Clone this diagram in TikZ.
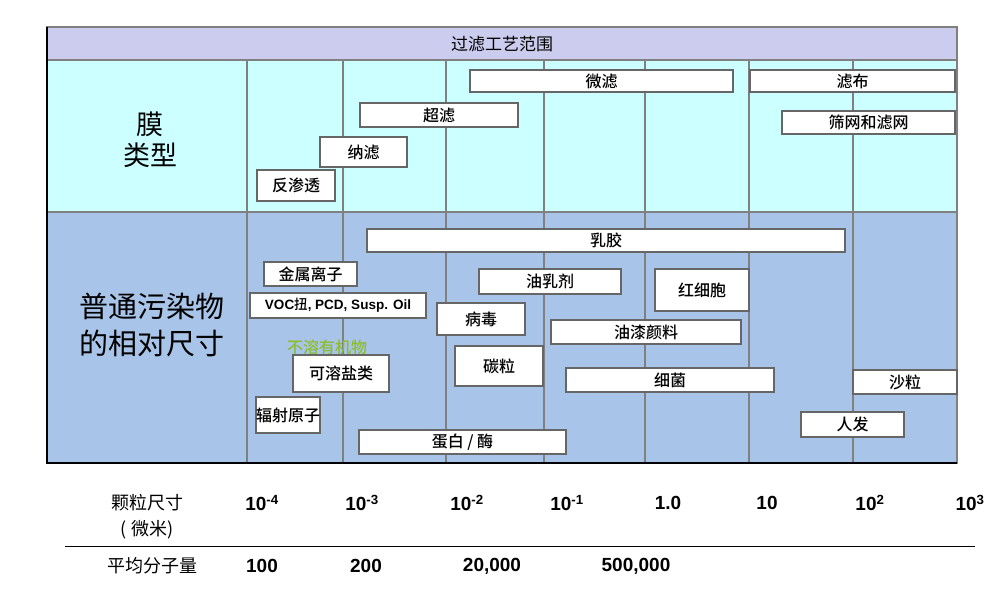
\documentclass[tikz,border=0pt]{standalone}
\usepackage{fontspec}
\setmainfont{Liberation Sans}
\newfontfamily\cjk{Noto Sans CJK SC}[BoldFont={Noto Sans CJK SC Medium}]
\begin{document}
\begin{tikzpicture}[x=1pt,y=-1pt,
  bx/.style={draw=gray!80!black,line width=1.2pt,fill=white,inner sep=0pt,font=\cjk\bfseries\fontsize{16}{18}\selectfont},
  num/.style={font=\bfseries\fontsize{19}{21}\selectfont},
  lab/.style={font=\cjk\fontsize{18}{20}\selectfont}]
\useasboundingbox (0,0) rectangle (1008,607);
\fill[fill={rgb,255:red,204;green,204;blue,238}] (47,27) rectangle (957,60);
\fill[fill={rgb,255:red,204;green,255;blue,255}] (47,60) rectangle (957,212);
\fill[fill={rgb,255:red,168;green,196;blue,232}] (47,212) rectangle (957,463);
\foreach \x in {247,343,446,544,645,749,853}
  \draw[gray,line width=1.5pt] (\x,60) -- (\x,463);
\draw[gray,line width=1.5pt] (47,60) -- (957,60) (47,212) -- (957,212);
\draw[gray,line width=1.5pt] (47,27) rectangle (957,463);
\draw[black,line width=2pt] (47,27) -- (47,463) -- (957,463);
\node[font=\cjk\fontsize{17}{19}\selectfont] (title) at (502,44) {过滤工艺范围};
\node[font=\cjk\fontsize{27}{31}\selectfont,align=center] (mo) at (150,140) {膜\\类型};
\node[font=\cjk\fontsize{29}{37}\selectfont,align=center] (wr) at (152,325) {普通污染物\\的相对尺寸};
\newcommand\bxx[6]{\node[bx,minimum width=#3-#2,minimum height=#5-#4] (#1) at ({(#2+#3)/2},{(#4+#5)/2}) {#6};}
\bxx{wl}{470}{733}{70}{92}{微滤}
\bxx{lb}{750}{955}{70}{92}{滤布}
\bxx{cl}{360}{518}{103}{127}{超滤}
\bxx{sw}{782}{955}{111}{134}{筛网和滤网}
\bxx{nl}{320}{407}{137}{167}{纳滤}
\bxx{fst}{257}{335}{170}{201}{反渗透}
\bxx{rj}{367}{845}{229}{252}{乳胶}
\bxx{js}{264}{357}{262}{286}{金属离子}
\bxx{yrj}{479}{621}{269}{294}{油乳剂}
\bxx{hxb}{655}{749}{269}{311}{红细胞}
\node[bx,minimum width=176,minimum height=25,font=\bfseries\fontsize{13.5}{15}\selectfont] (voc) at (338,305.5) {VOC{\cjk 扭}, PCD, Susp. Oil};
\bxx{bd}{437}{525}{303}{335}{病毒}
\bxx{yq}{551}{741}{320}{344}{油漆颜料}
\node[font=\cjk\bfseries\fontsize{16}{18}\selectfont,text={rgb,255:red,140;green,190;blue,40}] (brj) at (327,347) {不溶有机物};
\bxx{krj}{293}{389}{355}{392}{可溶盐类}
\bxx{tl}{455}{543}{346}{386}{碳粒}
\bxx{xj}{566}{774}{368}{392}{细菌}
\bxx{sl}{853}{957}{370}{394}{沙粒}
\bxx{fs}{256}{320}{397}{433}{辐射原子}
\bxx{rf}{801}{904}{412}{437}{人发}
\bxx{db}{359}{566}{430}{454}{蛋白 / 酶}
\node[lab] (kl) at (147,503) {颗粒尺寸};
\node[lab] (wm) at (147,530) {( 微米)};
\node[num] (e1) at (262,503) {10\textsuperscript{-4}};
\node[num] (e2) at (362,503) {10\textsuperscript{-3}};
\node[num] (e3) at (467,503) {10\textsuperscript{-2}};
\node[num] (e4) at (567,503) {10\textsuperscript{-1}};
\node[num] (e5) at (668,503) {1.0};
\node[num] (e6) at (767,503) {10};
\node[num] (e7) at (870,503) {10\textsuperscript{2}};
\node[num] (e8) at (970,503) {10\textsuperscript{3}};
\draw[line width=1pt] (65,546) -- (975,546);
\node[lab] (pj) at (152,566) {平均分子量};
\node[num] (m1) at (262,566) {100};
\node[num] (m2) at (366,566) {200};
\node[num] (m3) at (492,566) {20,000};
\node[num] (m4) at (636,566) {500,000};
\end{tikzpicture}
\end{document}
